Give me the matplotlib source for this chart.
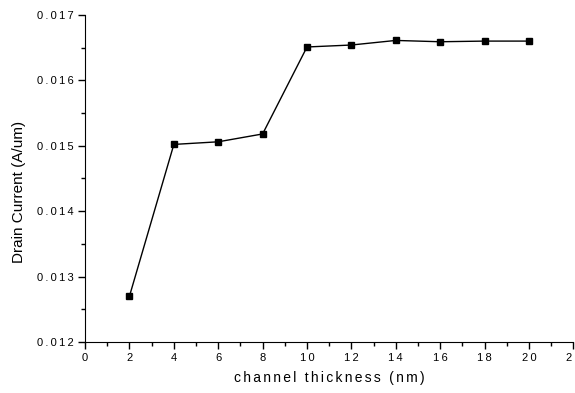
import matplotlib
matplotlib.use('Agg')
import matplotlib.pyplot as plt
from matplotlib.ticker import MultipleLocator, FuncFormatter

# channel thickness (nm) vs drain current (A/um)
thickness = [2, 4, 6, 8, 10, 12, 14, 16, 18, 20]
current = [0.01270, 0.01502, 0.01506, 0.01518, 0.01651, 0.01654, 0.01661, 0.01659, 0.01660, 0.01660]

plt.rcParams['font.family'] = ['Liberation Sans', 'DejaVu Sans']

# Origin-style spaced-out labels
def spaced(s, sep='\u2009'):
    return sep.join(s)

fig = plt.figure(figsize=(5.75, 3.93), dpi=100)
ax = fig.add_axes([0.148, 0.130, 0.849, 0.832])

ax.plot(thickness, current, color='black', lw=1, marker='s', ms=5,
        markerfacecolor='black', markeredgecolor='black', clip_on=False)

ax.set_xlim(0, 22)
ax.set_ylim(0.012, 0.017)
ax.xaxis.set_major_locator(MultipleLocator(2))
ax.xaxis.set_minor_locator(MultipleLocator(1))
ax.yaxis.set_major_locator(MultipleLocator(0.001))
ax.yaxis.set_minor_locator(MultipleLocator(0.0005))
ax.xaxis.set_major_formatter(FuncFormatter(lambda v, p: spaced('%d' % v)))
ax.yaxis.set_major_formatter(FuncFormatter(lambda v, p: spaced('%.3f' % v)))

ax.spines['top'].set_visible(False)
ax.spines['right'].set_visible(False)
ax.tick_params(which='major', direction='out', length=5, width=1, labelsize=8, pad=3)
ax.tick_params(which='minor', direction='out', length=3, width=1)

ax.set_xlabel(spaced('channel thickness (nm)', '\u2006'), fontsize=10, labelpad=6)
ax.set_ylabel('Drain Current (A/um)', fontsize=11)
ax.yaxis.set_label_coords(-0.121, 0.46)

fig.savefig('out.png', dpi=100)
